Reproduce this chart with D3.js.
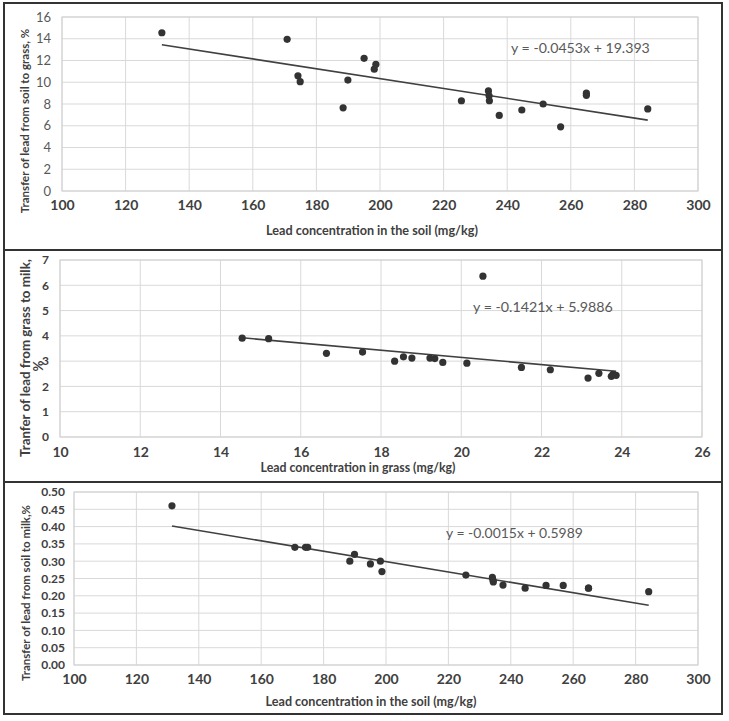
<!DOCTYPE html>
<html>
<head>
<meta charset="utf-8">
<script src="https://cdn.jsdelivr.net/npm/d3@7"></script>
<style>
  html, body { margin: 0; padding: 0; background: #fff; }
  svg { display: block; }
  text { font-family: Lato, "Open Sans", sans-serif; }
</style>
</head>
<body>
<svg id="chart" width="729" height="721"></svg>
<script>
// ---------- DATA ----------
// Panel 1 & 3: lead concentration in soil (mg/kg)
const soilConc = [131.4, 170.8, 174.2, 174.9, 188.4, 189.9, 195.0, 198.2, 198.7, 225.6,
                  234.1, 234.3, 234.4, 237.5, 244.6, 251.3, 256.8, 264.9, 264.9, 284.2];
// Panel 1: transfer of lead from soil to grass, %
const soilToGrass = [14.55, 13.95, 10.6, 10.05, 7.65, 10.2, 12.2, 11.2, 11.65, 8.3,
                     9.2, 8.75, 8.3, 6.95, 7.45, 8.0, 5.9, 9.0, 8.8, 7.55];
// Panel 3: transfer of lead from soil to milk, %
const soilToMilk = [0.46, 0.34, 0.34, 0.34, 0.30, 0.32, 0.292, 0.30, 0.27, 0.26,
                    0.253, 0.245, 0.24, 0.231, 0.222, 0.23, 0.23, 0.222, 0.222, 0.212];
// Panel 2: lead concentration in grass (mg/kg) and transfer grass -> milk, %
const grassConc = [14.54, 15.2, 16.64, 17.54, 18.34, 18.56, 18.77, 19.22, 19.34, 19.54,
                   20.14, 20.54, 21.5, 22.22, 23.16, 23.43, 23.74, 23.78, 23.86];
const grassToMilk = [3.91, 3.89, 3.31, 3.36, 3.0, 3.17, 3.12, 3.12, 3.1, 2.95,
                     2.92, 6.36, 2.75, 2.66, 2.33, 2.52, 2.4, 2.48, 2.44];
// Trendline coefficients (as printed on the chart)
const trendSlopes = [-0.0453, -0.1421, -0.0015];
const trendIntercepts = [19.393, 5.9886, 0.5989];
const equationLabels = ["y = -0.0453x + 19.393", "y = -0.1421x + 5.9886", "y = -0.0015x + 0.5989"];
// Tick values
const soilTicks = [100, 120, 140, 160, 180, 200, 220, 240, 260, 280, 300];
const grassTicks = [10, 12, 14, 16, 18, 20, 22, 24, 26];
const grassPctTicks = [0, 2, 4, 6, 8, 10, 12, 14, 16];
const milkTicks = [0, 1, 2, 3, 4, 5, 6, 7];
const soilMilkTicks = [0, 0.05, 0.10, 0.15, 0.20, 0.25, 0.30, 0.35, 0.40, 0.45, 0.50];
// Axis titles
const xTitles = ["Lead concentration in the soil (mg/kg)", "Lead concentration in grass (mg/kg)", "Lead concentration in the soil (mg/kg)"];
const yTitles = [["Transfer of lead from soil to grass, %"], ["Tranfer of lead from grass to milk,", "%"], ["Transfer of lead from soil to milk,%"]];

// ---------- LAYOUT ----------
const panels = [
  { xs: soilConc, ys: soilToGrass, xDom: [100, 300], yDom: [0, 16], xT: soilTicks, yT: grassPctTicks, yFmt: d3.format("d"),
    left: 62, right: 698, top: 17, bottom: 191, yLabRight: 51, yTickBold: false,
    xLabY: 207, xTitleX: 372, xTitleY: 231, xTitleW: 212,
    yTitleX: 25, yTitleY: 121, yTitleW: 185,
    eqX: 511, eqY: 48, eqW: 139 },
  { xs: grassConc, ys: grassToMilk, xDom: [10, 26], yDom: [0, 7], xT: grassTicks, yT: milkTicks, yFmt: d3.format("d"),
    left: 60, right: 702, top: 260, bottom: 437, yLabRight: 49, yTickBold: true,
    xLabY: 454, xTitleX: 358, xTitleY: 468, xTitleW: 195,
    yTitleX: 25, yTitleY: 358, yTitleW: 198,
    eqX: 473, eqY: 307, eqW: 140 },
  { xs: soilConc, ys: soilToMilk, xDom: [100, 300], yDom: [0, 0.5], xT: soilTicks, yT: soilMilkTicks, yFmt: d3.format(".2f"),
    left: 74, right: 698, top: 492, bottom: 665, yLabRight: 65, yTickBold: true,
    xLabY: 681, xTitleX: 371, xTitleY: 702, xTitleW: 211,
    yTitleX: 26, yTitleY: 593, yTitleW: 176,
    eqX: 446, eqY: 533, eqW: 137 }
];

const svg = d3.select("#chart");

function fitWidth(sel, w) {
  const cur = sel.node().getComputedTextLength();
  const fs = parseFloat(sel.attr("font-size"));
  if (cur > 0) sel.attr("font-size", fs * w / cur);
  return sel.attr("font-size");
}

panels.forEach((p, i) => {
  const x = d3.scaleLinear().domain(p.xDom).range([p.left, p.right]);
  const y = d3.scaleLinear().domain(p.yDom).range([p.bottom, p.top]);
  const g = svg.append("g");

  // gridlines
  g.append("g").selectAll("line").data(p.xT).join("line")
    .attr("x1", d => x(d)).attr("x2", d => x(d))
    .attr("y1", p.top).attr("y2", p.bottom)
    .attr("stroke", "#d9d9d9").attr("stroke-width", 1);
  g.append("g").selectAll("line").data(p.yT).join("line")
    .attr("x1", p.left).attr("x2", p.right)
    .attr("y1", d => y(d)).attr("y2", d => y(d))
    .attr("stroke", "#d9d9d9").attr("stroke-width", 1);
  // plot area border
  g.append("rect").attr("x", p.left).attr("y", p.top)
    .attr("width", p.right - p.left).attr("height", p.bottom - p.top)
    .attr("fill", "none").attr("stroke", "#d0d0d0").attr("stroke-width", 1);

  // x axis via d3 axis (labels only)
  const xAxis = g.append("g").attr("transform", `translate(0,${p.xLabY - 8})`)
    .call(d3.axisBottom(x).tickValues(p.xT).tickSize(0).tickPadding(0).tickFormat(d3.format("d")));
  xAxis.select(".domain").remove();
  xAxis.selectAll("text").attr("font-family", "Lato, 'Open Sans', sans-serif")
    .attr("font-size", 14).attr("font-weight", "bold").attr("fill", "#404040")
    .attr("dy", "0.75em").attr("y", 0);

  const yAxis = g.append("g").attr("transform", `translate(${p.yLabRight},0)`)
    .call(d3.axisLeft(y).tickValues(p.yT).tickSize(0).tickPadding(0).tickFormat(p.yFmt));
  yAxis.select(".domain").remove();
  yAxis.selectAll("text").attr("font-family", "Lato, 'Open Sans', sans-serif")
    .attr("font-size", p.yTickBold ? 12 : 13)
    .attr("font-weight", p.yTickBold ? "bold" : "normal")
    .attr("fill", p.yTickBold ? "#404040" : "#595959");

  // trendline
  const xmin = d3.min(p.xs), xmax = d3.max(p.xs);
  g.append("line")
    .attr("x1", x(xmin)).attr("y1", y(trendSlopes[i] * xmin + trendIntercepts[i]))
    .attr("x2", x(xmax)).attr("y2", y(trendSlopes[i] * xmax + trendIntercepts[i]))
    .attr("stroke", "#404040").attr("stroke-width", 1.6);

  // points
  g.append("g").selectAll("circle").data(p.xs.map((v, k) => [v, p.ys[k]])).join("circle")
    .attr("cx", d => x(d[0])).attr("cy", d => y(d[1])).attr("r", 3.6)
    .attr("fill", "#333");

  // equation
  const eq = g.append("text").attr("x", p.eqX).attr("y", p.eqY).attr("dy", "0.35em")
    .attr("font-size", 15).attr("fill", "#595959").text(equationLabels[i]);
  fitWidth(eq, p.eqW);

  // x title
  const xt = g.append("text").attr("x", p.xTitleX).attr("y", p.xTitleY).attr("dy", "0.35em")
    .attr("text-anchor", "middle").attr("font-size", 13).attr("font-weight", "bold")
    .attr("fill", "#404040").text(xTitles[i]);
  fitWidth(xt, p.xTitleW);

  // y title
  const yt = g.append("text").attr("transform", `translate(${p.yTitleX},${p.yTitleY}) rotate(-90)`)
    .attr("dy", "0.35em").attr("text-anchor", "middle").attr("font-size", 13).attr("font-weight", "bold")
    .attr("fill", "#404040").text(yTitles[i][0]);
  const fs = fitWidth(yt, p.yTitleW);
  if (yTitles[i].length > 1) {
    g.append("text").attr("transform", `translate(${p.yTitleX + 13},${p.yTitleY + 8}) rotate(-90)`)
      .attr("dy", "0.35em").attr("text-anchor", "middle").attr("font-size", fs).attr("font-weight", "bold")
      .attr("fill", "#404040").text(yTitles[i][1]);
  }
});

// outer frame and dividers
svg.append("rect").attr("x", 4).attr("y", 3).attr("width", 718).attr("height", 711)
  .attr("fill", "none").attr("stroke", "#333").attr("stroke-width", 2);
svg.selectAll("line.divider").data([250, 482]).join("line").attr("class", "divider")
  .attr("x1", 4).attr("x2", 722).attr("y1", d => d).attr("y2", d => d)
  .attr("stroke", "#333").attr("stroke-width", 2);
</script>
</body>
</html>
